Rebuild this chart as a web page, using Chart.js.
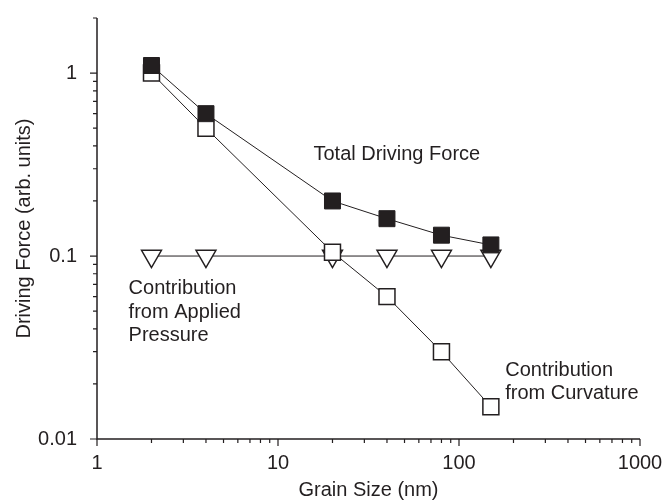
<!DOCTYPE html>
<html>
<head>
<meta charset="utf-8">
<script src="https://cdn.jsdelivr.net/npm/chart.js@4"></script>
<style>
html,body{margin:0;padding:0;background:#fff;}
</style>
</head>
<body>
<canvas id="chart" width="665" height="502"></canvas>
<script>
// data
const grainSize = [2, 4, 20, 40, 80, 150];
const totalForce = [1.1, 0.6, 0.2, 0.16, 0.13, 0.115];
const curvatureForce = [1.0, 0.5, 0.105, 0.06, 0.03, 0.015];
const pressureForce = [0.1, 0.1, 0.1, 0.1, 0.1, 0.1];

const xTickValues = [1, 10, 100, 1000];
const xTickLabels = ["1", "10", "100", "1000"];
const yTickValues = [0.01, 0.1, 1];
const yTickLabels = ["0.01", "0.1", "1"];

const INK = "#231f20";
const FONT = "'Liberation Sans', Arial, sans-serif";

function toPoints(ys){
    return grainSize.map((x, i) => ({x: x, y: ys[i]}));
}

// text notes placed in data coordinates
const notes = [
    {lines: ["Total Driving Force"], x: 15.7, y: 0.358},
    {lines: ["Contribution", "from Applied", "Pressure"], x: 1.495, y: 0.0663},
    {lines: ["Contribution", "from Curvature"], x: 180, y: 0.0237}
];

function minorValues(min, max){
    const out = [];
    for(let d = Math.floor(Math.log10(min)); d <= Math.ceil(Math.log10(max)); d++){
        for(let m = 1; m <= 9; m++){
            const v = m * Math.pow(10, d);
            if(v >= min * 0.999 && v <= max * 1.001) out.push({v: v, major: m === 1});
        }
    }
    return out;
}

// no automatic padding from the tick labels, the layout padding decides
function noScalePadding(s){
    s.paddingTop = 0;
    s.paddingBottom = 0;
    s.paddingLeft = 0;
    s.paddingRight = 0;
}

const axesPlugin = {
    id: "axesAndNotes",
    afterDraw(chart){
        const ctx = chart.ctx;
        const xs = chart.scales.x;
        const ys = chart.scales.y;
        const area = chart.chartArea;
        ctx.save();
        ctx.strokeStyle = INK;
        ctx.lineWidth = 1.5;

        // axis lines
        ctx.beginPath();
        ctx.moveTo(area.left, area.top);
        ctx.lineTo(area.left, area.bottom);
        ctx.lineTo(area.right, area.bottom);
        ctx.stroke();

        // ticks
        ctx.lineWidth = 1.2;
        ctx.beginPath();
        minorValues(xs.min, xs.max).forEach(t => {
            const px = xs.getPixelForValue(t.v);
            ctx.moveTo(px, area.bottom);
            ctx.lineTo(px, area.bottom + (t.major ? 7 : 4));
        });
        minorValues(ys.min, ys.max).forEach(t => {
            const py = ys.getPixelForValue(t.v);
            ctx.moveTo(area.left, py);
            ctx.lineTo(area.left - (t.major ? 7 : 4), py);
        });
        ctx.stroke();

        // axis titles
        ctx.fillStyle = INK;
        ctx.font = "20px " + FONT;
        ctx.textAlign = "center";
        ctx.textBaseline = "middle";
        ctx.fillText("Grain Size (nm)", (area.left + area.right) / 2, 490);
        ctx.save();
        ctx.translate(24, (area.top + area.bottom) / 2);
        ctx.rotate(-Math.PI / 2);
        ctx.fillText("Driving Force (arb. units)", 0, 0);
        ctx.restore();

        // notes
        ctx.textAlign = "left";
        notes.forEach(n => {
            const px = xs.getPixelForValue(n.x);
            const py = ys.getPixelForValue(n.y);
            n.lines.forEach((line, i) => ctx.fillText(line, px, py + i * 23.5));
        });
        ctx.restore();
    }
};

new Chart(document.getElementById("chart"), {
    type: "line",
    data: {
        datasets: [
            {
                label: "Total Driving Force",
                data: toPoints(totalForce),
                borderColor: INK,
                borderWidth: 1,
                pointStyle: "rect",
                pointRadius: 11.3,
                pointBackgroundColor: INK,
                pointBorderColor: INK,
                pointBorderWidth: 1,
                order: 1
            },
            {
                label: "Contribution from Curvature",
                data: toPoints(curvatureForce),
                borderColor: INK,
                borderWidth: 1,
                pointStyle: "rect",
                pointRadius: 11.3,
                pointBackgroundColor: "#ffffff",
                pointBorderColor: INK,
                pointBorderWidth: 1.5,
                order: 2
            },
            {
                label: "Contribution from Applied Pressure",
                data: toPoints(pressureForce),
                borderColor: INK,
                borderWidth: 1,
                pointStyle: "triangle",
                pointRotation: 180,
                pointRadius: 11.5,
                pointBackgroundColor: "#ffffff",
                pointBorderColor: INK,
                pointBorderWidth: 1.5,
                order: 3
            }
        ]
    },
    options: {
        responsive: false,
        animation: false,
        devicePixelRatio: 1,
        layout: {padding: {top: 18, right: 25, left: 0, bottom: 0}},
        plugins: {legend: {display: false}, tooltip: {enabled: false}},
        scales: {
            x: {
                type: "logarithmic",
                position: "bottom",
                min: 1,
                max: 1000,
                grid: {display: false},
                border: {display: false},
                ticks: {
                    color: INK,
                    font: {size: 20, family: FONT},
                    padding: 4,
                    maxRotation: 0,
                    autoSkip: false,
                    callback: v => xTickLabels[xTickValues.indexOf(v)]
                },
                afterBuildTicks: s => { s.ticks = xTickValues.map(v => ({value: v})); },
                afterFit: s => { s.height = 63; noScalePadding(s); }
            },
            y: {
                type: "logarithmic",
                position: "left",
                min: 0.01,
                max: 2,
                grid: {display: false},
                border: {display: false},
                ticks: {
                    color: INK,
                    font: {size: 20, family: FONT},
                    padding: 12,
                    autoSkip: false,
                    callback: v => yTickLabels[yTickValues.indexOf(v)]
                },
                afterBuildTicks: s => { s.ticks = yTickValues.map(v => ({value: v})); },
                afterFit: s => { s.width = 97; noScalePadding(s); }
            }
        }
    },
    plugins: [axesPlugin]
});
</script>
</body>
</html>
